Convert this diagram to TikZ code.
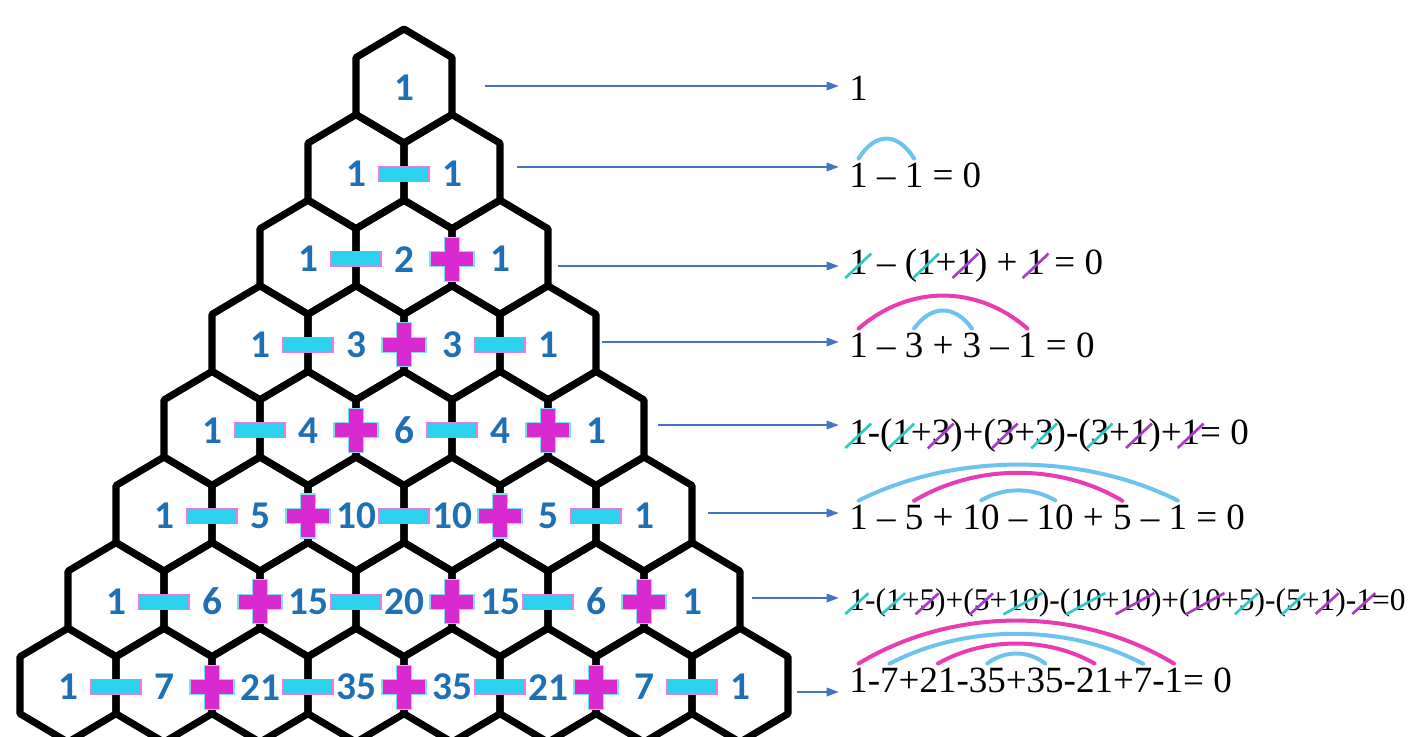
\documentclass[tikz,border=0pt]{standalone}
\usepackage{fontspec}
\setmainfont{Liberation Serif}
\newfontfamily\numfont{Carlito}
\usetikzlibrary{arrows.meta,positioning,calc}
\definecolor{numblue}{HTML}{1F6FB4}
\definecolor{mcyan}{HTML}{2DD2EE}
\definecolor{mpink}{HTML}{E87BE0}
\definecolor{pmag}{HTML}{D92AD2}
\definecolor{pcyan}{HTML}{7FE0F0}
\definecolor{stcyan}{HTML}{2EC8C8}
\definecolor{stmag}{HTML}{A63CC8}
\definecolor{arcblue}{HTML}{6EC3EE}
\definecolor{arcpink}{HTML}{E83CB4}
\definecolor{arrblue}{HTML}{4472C4}
\tikzset{
  hexline/.style={line width=5.3pt, line join=round},
  num/.style={font=\numfont\bfseries\fontsize{29.5pt}{30pt}\selectfont, text=numblue, inner sep=0pt},
  eq/.style={font=\fontsize{27.75pt}{30pt}\selectfont, inner sep=0pt, outer sep=0pt},
  eqsmall/.style={font=\fontsize{23.6pt}{27pt}\selectfont},
  nn/.style={},
  sc/.style={draw=stcyan, line width=2pt},
  sm/.style={draw=stmag, line width=2pt},
  acy/.style={draw=arcblue, line width=3pt, line cap=round},
  apk/.style={draw=arcpink, line width=3pt, line cap=round},
  arr/.style={draw=arrblue, line width=1pt, -{Triangle[length=9pt,width=6.5pt]}, shorten >=7.5pt},
  minussign/.pic={\filldraw[fill=mcyan, draw=mpink, line width=0.8pt] (-25,-7.5) rectangle (25,7.5);},
  plussign/.pic={\filldraw[fill=pmag, draw=pcyan, line width=0.8pt]
     (-22,-7.5) -- (-7.5,-7.5) -- (-7.5,-22) -- (7.5,-22) -- (7.5,-7.5) -- (22,-7.5) --
     (22,7.5) -- (7.5,7.5) -- (7.5,22) -- (-7.5,22) -- (-7.5,7.5) -- (-22,7.5) -- cycle;}
}
\newcommand\eqline[4]{%
  \node[eq,#2,anchor=base west] (#1-0) at #3 {};
  \foreach \t/\s [count=\i, remember=\i as \j (initially 0)] in {#4} {
    \node[eq,#2,base right=0pt of #1-\j] (#1-\i) {\t};
    \path[\s] ([shift={(-3pt,-3pt)}]#1-\i.south west) -- ([shift={(2.5pt,-3pt)}]#1-\i.north east);
  }%
}
\newcommand\archline[4]{%
  \draw[#1] ([yshift=3pt]#2.north) .. controls ($(#2.north)!0.3!(#3.north)+(0pt,{(4+#4*1.3333)*0.75pt})$)
    and ($(#2.north)!0.7!(#3.north)+(0pt,{(4+#4*1.3333)*0.75pt})$) .. ([yshift=3pt]#3.north);%
}
\newcommand\spk{\ \null}
\begin{document}
\begin{tikzpicture}[x=0.75pt,y=-0.75pt]
\useasboundingbox (0,0) rectangle (1411,736);
\clip (0,0) rectangle (1411,736);
\fill[white] (0,0) rectangle (1411,736);
% hexagons
\foreach \row [count=\k from 0] in {{1},{1,1},{1,2,1},{1,3,3,1},{1,4,6,4,1},{1,5,10,10,5,1},{1,6,15,20,15,6,1},{1,7,21,35,35,21,7,1}} {
  \foreach \v [count=\j from 0] in \row {
    \pgfmathsetmacro\cx{404+(\j-\k/2)*96}
    \pgfmathsetmacro\cy{86+85.6*\k}
    \draw[hexline] (\cx,\cy-57) -- (\cx+48,\cy-28.5) -- (\cx+48,\cy+28.5) -- (\cx,\cy+57)
       -- (\cx-48,\cy+28.5) -- (\cx-48,\cy-28.5) -- cycle;
  }
}
% signs
\foreach \k in {1,...,7} {
  \foreach \j in {1,...,\k} {
    \pgfmathsetmacro\sx{404+(\j-0.5-\k/2)*96}
    \pgfmathsetmacro\sy{88+85.6*\k}
    \ifodd\j\relax
      \pic at (\sx,\sy) {minussign};
    \else
      \pic at (\sx,\sy) {plussign};
    \fi
  }
}
% numbers
\foreach \row [count=\k from 0] in {{1},{1,1},{1,2,1},{1,3,3,1},{1,4,6,4,1},{1,5,10,10,5,1},{1,6,15,20,15,6,1},{1,7,21,35,35,21,7,1}} {
  \foreach \v [count=\j from 0] in \row {
    \pgfmathsetmacro\cx{404+(\j-\k/2)*96}
    \pgfmathsetmacro\cy{88+85.6*\k}
    \node[num] (n-\k-\j) at (\cx,\cy) {\v};
  }
}
% equations
\eqline{r0}{}{(848,100)}{1/nn}
\eqline{r1}{}{(848,187)}{1/nn, {\ –\spk}/nn, 1/nn, {\ =\ 0}/nn}
\eqline{r2}{}{(848,274)}{1/sc, {\ –\ (}/nn, 1/sc, +/nn, 1/sm, {)\ +\spk}/nn, 1/sm, {\ =\ 0}/nn}
\eqline{r3}{}{(848,357)}{1/nn, {\ –\spk}/nn, 3/nn, {\ +\spk}/nn, 3/nn, {\ –\spk}/nn, 1/nn, {\ =\ 0}/nn}
\eqline{r4}{}{(848,444)}{1/sc, -(/nn, 1/sc, +/nn, 3/sm, )+(/nn, 3/sm, +/nn, 3/sc, )-(/nn, 3/sc, +/nn, 1/sm, )+/nn, 1/sm, {=\ 0}/nn}
\eqline{r5}{}{(848,529)}{1/nn, {\ –\spk}/nn, 5/nn, {\ +\spk}/nn, 10/nn, {\ –\spk}/nn, 10/nn, {\ +\spk}/nn, 5/nn, {\ –\spk}/nn, 1/nn, {\ =\ 0}/nn}
\eqline{r6}{eqsmall}{(848,610)}{1/sc, -(/nn, 1/sc, +/nn, 5/sm, )+(/nn, 5/sm, +/nn, 10/sc, )-(/nn, 10/sc, +/nn, 10/sm, )+(/nn, 10/sm, +/nn, 5/sc, )-(/nn, 5/sc, +/nn, 1/sm, )-/nn, 1/sm, =0/nn}
\eqline{r7}{}{(848,692)}{1/nn, -/nn, 7/nn, +/nn, 21/nn, -/nn, 35/nn, +/nn, 35/nn, -/nn, 21/nn, +/nn, 7/nn, -/nn, 1/nn, {=\ 0}/nn}
% arches
\archline{acy}{r1-1}{r1-3}{20}
\archline{apk}{r3-1}{r3-7}{33}
\archline{acy}{r3-3}{r3-5}{18}
\archline{acy}{r5-1}{r5-11}{36}
\archline{apk}{r5-3}{r5-9}{28}
\archline{acy}{r5-5}{r5-7}{10}
\archline{apk}{r7-1}{r7-15}{43}
\archline{acy}{r7-3}{r7-13}{30}
\archline{apk}{r7-5}{r7-11}{20}
\archline{acy}{r7-7}{r7-9}{10}
% arrows
\coordinate (a0) at (485,86);
\coordinate (a1) at (517,167);
\coordinate (a2) at (558,266);
\coordinate (a3) at (602,342);
\coordinate (a4) at (658,425);
\coordinate (a5) at (708,513);
\coordinate (a6) at (752,598);
\coordinate (a7) at (797,692);
\foreach \r in {0,...,7} { \draw[arr] (a\r) -- (a\r -| r\r-0); }
\end{tikzpicture}
\end{document}
